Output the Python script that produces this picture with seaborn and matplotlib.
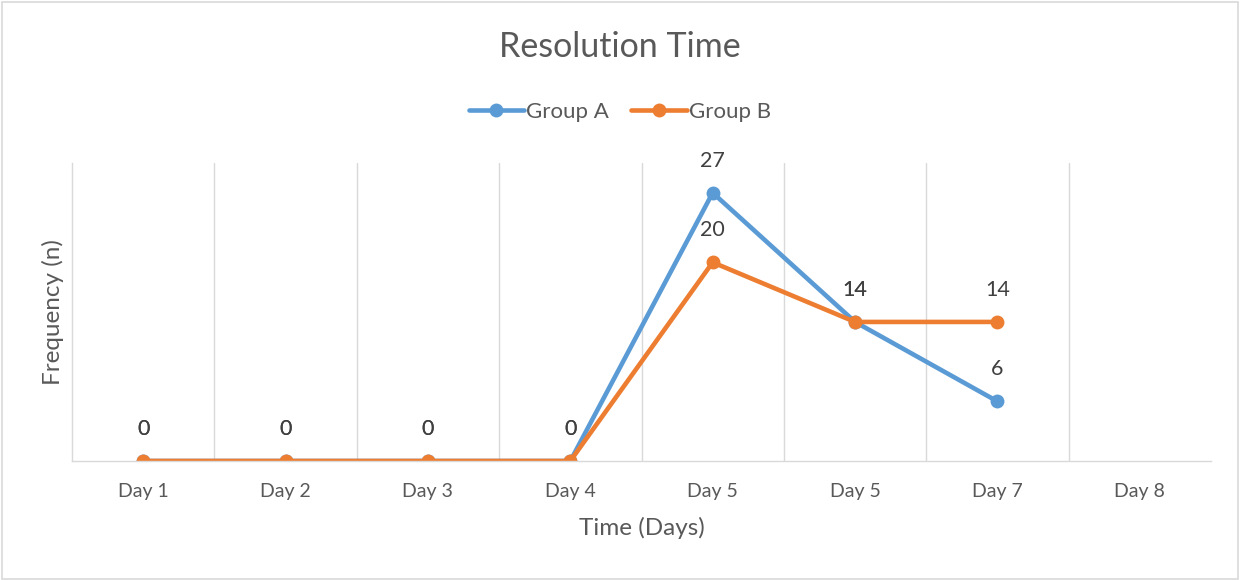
import pandas as pd
import numpy as np
import matplotlib.pyplot as plt
import seaborn as sns

days = ["Day 1", "Day 2", "Day 3", "Day 4", "Day 5", "Day 5", "Day 7", "Day 8"]
group_a = [0, 0, 0, 0, 27, 14, 6, np.nan]
group_b = [0, 0, 0, 0, 20, 14, 14, np.nan]

df = pd.DataFrame({
    "pos": list(range(len(days))) * 2,
    "value": group_a + group_b,
    "group": ["Group A"] * len(days) + ["Group B"] * len(days),
})

sns.set_style("white")
plt.rcParams["font.family"] = ["Lato", "DejaVu Sans"]

colors = {"Group A": "#5B9BD5", "Group B": "#ED7D31"}
text_col = "#595959"

fig = plt.figure(figsize=(12.4, 5.8), dpi=100)
ax = fig.add_axes([72 / 1240, 1 - 461 / 580, (1211 - 72) / 1240, (461 - 163) / 580])

sns.lineplot(
    data=df, x="pos", y="value", hue="group", palette=colors,
    marker="o", markersize=10, markeredgewidth=0, linewidth=3.3,
    ax=ax, legend=False,
)

# data labels
for name, vals in [("Group A", group_a), ("Group B", group_b)]:
    for i, v in enumerate(vals):
        if np.isnan(v):
            continue
        ax.annotate(f"{int(v)}", (i, v), xytext=(0, 23), textcoords="offset points",
                    ha="center", va="center", fontsize=15.5, color="#404040")

ax.set_xlim(-0.5, len(days) - 0.5)
ax.set_ylim(0, 30)
ax.set_xticks(range(len(days)))
ax.set_xticklabels(days, fontsize=14, color=text_col)
ax.set_yticks([])
ax.tick_params(axis="x", length=0, pad=16)
for x in np.arange(0.5, len(days) - 0.5, 1):
    ax.axvline(x, color="#D9D9D9", linewidth=1, zorder=0)
for side in ["top", "right"]:
    ax.spines[side].set_visible(False)
for side in ["left", "bottom"]:
    ax.spines[side].set_color("#D9D9D9")
    ax.spines[side].set_linewidth(1)

ax.set_xlabel("Time (Days)", fontsize=17.5, color=text_col, labelpad=12)
ax.set_ylabel("Frequency (n)", fontsize=17.5, color=text_col, labelpad=6)

fig.text(0.5, 1 - 47 / 580, "Resolution Time", ha="center", va="center",
         fontsize=24.5, color=text_col)

handles = [plt.Line2D([], [], color=colors[g], marker="o", markersize=10, linewidth=3.3,
                      markeredgewidth=0) for g in colors]
fig.legend(handles, list(colors), loc="center", bbox_to_anchor=(0.5, 1 - 112 / 580),
           ncol=2, frameon=False, fontsize=16, labelcolor=text_col,
           handlelength=2.5, columnspacing=1.0, handletextpad=0.1)

fig.patches.append(plt.Rectangle((0.002, 0.002), 0.996, 0.995, transform=fig.transFigure,
                                 fill=False, edgecolor="#D9D9D9", linewidth=1.2))

fig.savefig("out.png", dpi=100)
